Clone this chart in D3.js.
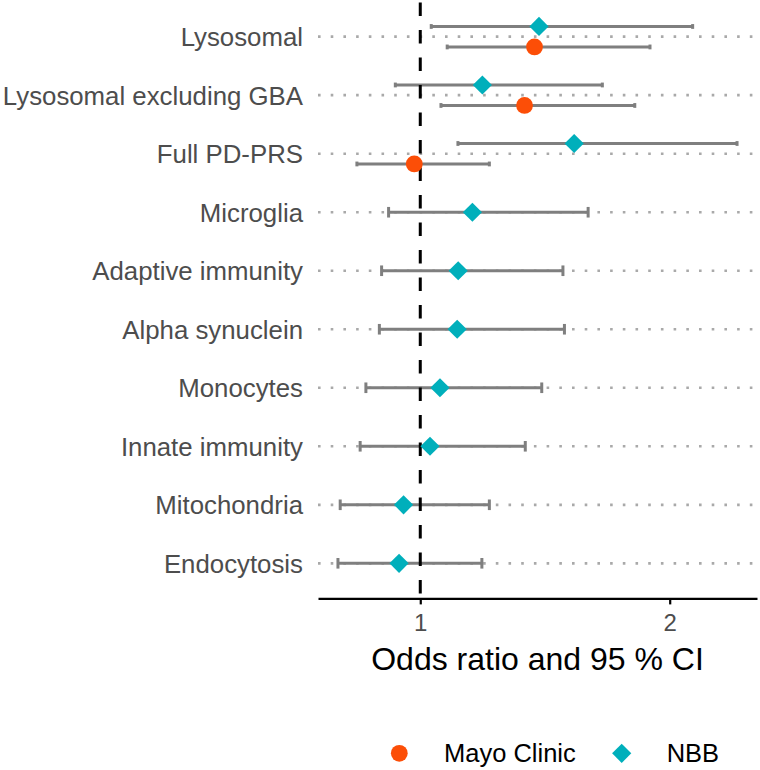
<!DOCTYPE html>
<html>
<head>
<meta charset="utf-8">
<script src="https://cdn.jsdelivr.net/npm/d3@7"></script>
<style>
  html, body { margin: 0; padding: 0; background: #fff; }
  text { font-family: "Liberation Sans", Arial, sans-serif; }
</style>
</head>
<body>
<svg id="chart" width="760" height="770"></svg>
<script>
// ---- data ----
const categories = ["Lysosomal", "Lysosomal excluding GBA", "Full PD-PRS", "Microglia",
  "Adaptive immunity", "Alpha synuclein", "Monocytes", "Innate immunity", "Mitochondria", "Endocytosis"];
const nbbOR    = [1.476, 1.249, 1.617, 1.209, 1.152, 1.148, 1.079, 1.039, 0.933, 0.915];
const nbbLower = [1.044, 0.900, 1.151, 0.873, 0.845, 0.836, 0.782, 0.759, 0.679, 0.670];
const nbbUpper = [2.092, 1.730, 2.270, 1.673, 1.572, 1.578, 1.487, 1.421, 1.277, 1.247];
const mayoOR    = [1.458, 1.418, 0.976, null, null, null, null, null, null, null];
const mayoLower = [1.108, 1.083, 0.746, null, null, null, null, null, null, null];
const mayoUpper = [1.921, 1.860, 1.277, null, null, null, null, null, null, null];
const xTicks = [1, 2];
const seriesNames = ["Mayo Clinic", "NBB"];
const seriesColors = ["#FC4E07", "#00AFBB"];

// ---- layout ----
const svg = d3.select("#chart");
const pLeft = 318, pRight = 757, pTop = 1.6, pBottom = 598.4;

const allLow = nbbLower.concat(mayoLower.filter(v => v != null));
const allHigh = nbbUpper.concat(mayoUpper.filter(v => v != null));
const lo = d3.min(allLow), hi = d3.max(allHigh), pad = (hi - lo) * 0.05;
const x = d3.scaleLinear().domain([lo - pad, hi + pad]).range([pLeft, pRight]);
const y = d3.scalePoint().domain(categories).range([pTop, pBottom]).padding(0.6);
const step = y.step();
const dodge = step * 0.175;

// rows
const rows = [];
categories.forEach((c, i) => {
  const hasMayo = mayoOR[i] != null;
  rows.push({cat: c, s: 1, or: nbbOR[i], lo: nbbLower[i], hi: nbbUpper[i],
    dy: hasMayo ? -dodge : 0, cap: hasMayo ? 2.4 : 5.3});
  if (hasMayo) rows.push({cat: c, s: 0, or: mayoOR[i], lo: mayoLower[i], hi: mayoUpper[i],
    dy: dodge, cap: 2.4});
});

// grid (dotted)
svg.append("g").selectAll("line").data(categories).join("line")
  .attr("x1", pLeft).attr("x2", pRight)
  .attr("y1", d => y(d)).attr("y2", d => y(d))
  .attr("stroke", "#a9a9a9").attr("stroke-width", 2.7)
  .attr("stroke-dasharray", "2.6,10.1");

// y labels
svg.append("g").selectAll("text").data(categories).join("text")
  .attr("x", 303).attr("y", d => y(d)).attr("dy", "0.36em")
  .attr("text-anchor", "end").attr("font-size", 25.8).attr("fill", "#4d4d4d")
  .text(d => d);

// error bars
const eb = svg.append("g").attr("stroke", "#7f7f7f").attr("stroke-width", 3);
rows.forEach(r => {
  const yy = y(r.cat) + r.dy;
  eb.append("line").attr("x1", x(r.lo)).attr("x2", x(r.hi)).attr("y1", yy).attr("y2", yy);
  eb.append("line").attr("x1", x(r.lo)).attr("x2", x(r.lo)).attr("y1", yy - r.cap).attr("y2", yy + r.cap);
  eb.append("line").attr("x1", x(r.hi)).attr("x2", x(r.hi)).attr("y1", yy - r.cap).attr("y2", yy + r.cap);
});

// reference line at OR = 1
svg.append("line").attr("x1", x(1)).attr("x2", x(1)).attr("y1", pTop).attr("y2", pBottom)
  .attr("stroke", "#000").attr("stroke-width", 3).attr("stroke-dasharray", "13.5,14")
  .attr("stroke-dashoffset", -1);

// points
const circle = d3.symbol().type(d3.symbolCircle).size(Math.PI * 8.4 * 8.4);
const diamond = d3.symbol().type(d3.symbolSquare).size(2 * 9.6 * 9.6);
svg.append("g").selectAll("path").data(rows).join("path")
  .attr("transform", d => d.s === 0
      ? `translate(${x(d.or)},${y(d.cat) + d.dy})`
      : `translate(${x(d.or)},${y(d.cat) + d.dy}) rotate(45)`)
  .attr("d", d => d.s === 0 ? circle() : diamond())
  .attr("fill", d => seriesColors[d.s]);

// x axis
const axis = svg.append("g").attr("transform", `translate(0,${pBottom})`)
  .call(d3.axisBottom(x).tickValues(xTicks).tickFormat(d3.format("d"))
    .tickSize(6).tickSizeOuter(0).tickPadding(10));
axis.select(".domain").attr("stroke", "#000").attr("stroke-width", 2.2);
axis.selectAll(".tick line").attr("stroke", "#000").attr("stroke-width", 2.2);
axis.selectAll(".tick text").attr("font-size", 24).attr("fill", "#4d4d4d")
  .attr("font-family", "Liberation Sans, Arial, sans-serif");

// x title
svg.append("text").attr("x", (pLeft + pRight) / 2).attr("y", 670)
  .attr("text-anchor", "middle").attr("font-size", 32).attr("fill", "#000")
  .text("Odds ratio and 95 % CI");

// legend
const lg = svg.append("g");
lg.append("path").attr("transform", "translate(399.3,753.3)").attr("d", circle()).attr("fill", seriesColors[0]);
lg.append("text").attr("x", 444).attr("y", 753.3).attr("dy", "0.36em").attr("font-size", 25.5)
  .attr("fill", "#000").text(seriesNames[0]);
lg.append("path").attr("transform", "translate(621.7,753.3) rotate(45)").attr("d", diamond()).attr("fill", seriesColors[1]);
lg.append("text").attr("x", 666.7).attr("y", 753.3).attr("dy", "0.36em").attr("font-size", 25.5)
  .attr("fill", "#000").text(seriesNames[1]);
</script>
</body>
</html>
